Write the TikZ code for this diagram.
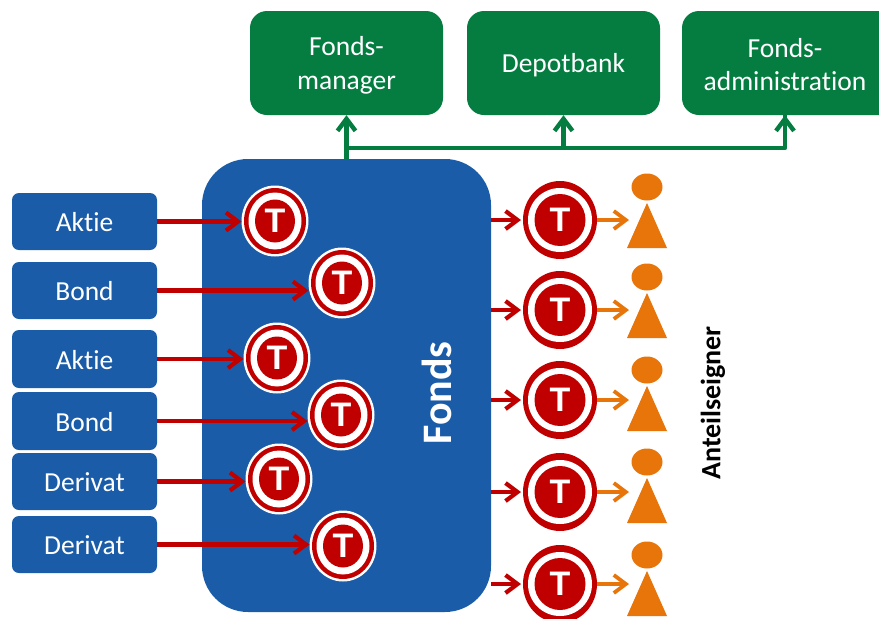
\documentclass[tikz,border=0pt]{standalone}
\usepackage{fontspec}
\setmainfont[Ligatures=NoCommon,Contextuals=NoAlternate]{Carlito}
\newfontfamily\tfont{Liberation Sans}
\usetikzlibrary{arrows.meta,shapes.geometric}
\definecolor{fblue}{HTML}{1A5CA8}
\definecolor{fgreen}{HTML}{057D41}
\definecolor{fred}{HTML}{C00000}
\definecolor{forange}{HTML}{E8750A}
\newcommand{\lowered}[2]{\raisebox{-#1pt}[\height][\depth]{#2}}
\tikzset{
  inbox/.style={rectangle,rounded corners=7pt,fill=fblue,text=white,minimum width=145pt,inner sep=0pt,font=\fontsize{27.5}{30}\selectfont},
  topbox/.style={rectangle,rounded corners=17pt,fill=fgreen,text=white,minimum width=193pt,minimum height=104pt,inner sep=0pt,align=center,font=\fontsize{27.5}{34}\selectfont},
  redarrow/.style={draw=fred,line width=4.2pt,-{Straight Barb[length=12pt,width=18pt,line width=4.2pt]}},
  orangearrow/.style={draw=forange,line width=3.8pt,-{Straight Barb[length=12pt,width=18pt,line width=3.8pt]}},
  greenline/.style={draw=fgreen,line width=4.4pt},
  greenarrow/.style={greenline,-{Straight Barb[length=12pt,width=18pt,line width=4.4pt]}},
  ell/.style={ellipse,inner sep=0pt,outer sep=0pt},
  orangefill/.style={fill=forange},
}
% \smalltoken{name}{x}{y}
\newcommand{\smalltoken}[3]{%
  \node[ell,fill=white,minimum width=67pt,minimum height=71pt] (#1) at (#2,#3) {};
  \node[ell,fill=fred,minimum width=62pt,minimum height=66pt] (#1a) at (#2,#3) {};
  \node[ell,fill=white,minimum width=53pt,minimum height=57pt] (#1b) at (#2,#3) {};
  \node[ell,fill=fred,minimum width=40pt,minimum height=43pt,text=white,font=\tfont\bfseries\fontsize{34}{34}\selectfont] (#1c) at (#2,#3) {T};
}
\newcommand{\bigtoken}[3]{%
  \node[ell,fill=fred,minimum width=74pt,minimum height=78pt] (#1) at (#2,#3) {};
  \node[ell,fill=white,minimum width=64pt,minimum height=64pt] (#1b) at (#2,#3) {};
  \node[ell,fill=fred,minimum width=51pt,minimum height=52pt,text=white,font=\tfont\bfseries\fontsize{34}{34}\selectfont] (#1c) at (#2,#3) {T};
}
% \person{name}{head y}
\newcommand{\person}[2]{%
  \node[ell,orangefill,minimum width=31pt,minimum height=27pt] (#1) at (647,#2) {};
  \fill[orangefill] (647,#2+16) -- (667,#2+61) -- (627,#2+61) -- cycle;
}
\begin{document}
\begin{tikzpicture}[x=1pt,y=-1pt]
\useasboundingbox (0,0) rectangle (879,619);
\fill[white] (0,0) rectangle (879,619);

% top boxes
\node[topbox] (mgr) at (346.5,63) {\lowered{2}{Fonds-}\\\lowered{2}{manager}};
\node[topbox] (dep) at (563.5,63) {\lowered{2}{Depotbank}};
\fill[fgreen,rounded corners=17pt] (879,11) -- (682,11) -- (682,115) -- (879,115);
\fill[fgreen] (860,11) rectangle (879,115);
\node[rectangle,text=white,minimum height=104pt,inner sep=0pt,align=center,font=\fontsize{27.5}{34}\selectfont] (adm) at (785,63) {\lowered{2}{Fonds-}\\\lowered{1}{administration}};

% fund
\node[rectangle,rounded corners=46pt,fill=fblue,minimum width=289pt,minimum height=453pt,inner sep=0pt] (fonds) at (346.5,385.5) {};
\node[rotate=90,text=white,font=\bfseries\fontsize{42}{42}\selectfont] (fondslabel) at (437,393) {Fonds};
\node[rotate=90,text=black,font=\bfseries\fontsize{28}{28}\selectfont] (anteil) at (713,403) {Anteilseigner};

% green connectors
\coordinate (fondstop) at (fonds.north -| mgr.south);
\coordinate (bus) at (347,148);
\draw[greenarrow] (fondstop) -- (mgr.south);
\draw[greenline,line join=round] (bus) -| (adm.south);
\draw[greenarrow] (bus -| adm.south) -- (adm.south);
\draw[greenarrow] (bus -| dep.south) -- (dep.south);

% input boxes
\node[inbox,minimum height=57pt] (b1) at (84.5,221.5) {\lowered{1}{Aktie}};
\node[inbox,minimum height=57pt] (b2) at (84.5,290.5) {\lowered{1}{Bond}};
\node[inbox,minimum height=58pt] (b3) at (84.5,359) {\lowered{1}{Aktie}};
\node[inbox,minimum height=58pt] (b4) at (84.5,421) {\lowered{1}{Bond}};
\node[inbox,minimum height=57pt] (b5) at (84.5,481.5) {\lowered{1}{Derivat}};
\node[inbox,minimum height=57pt] (b6) at (84.5,544.5) {\lowered{1}{Derivat}};

% tokens inside the fund
\smalltoken{t1}{275}{221}
\smalltoken{t2}{342}{283}
\smalltoken{t3}{277}{358}
\smalltoken{t4}{341}{415}
\smalltoken{t5}{279}{479}
\smalltoken{t6}{343}{546}

\draw[redarrow] (b1.east) -- (b1.east -| t1.west);
\draw[redarrow] (b2.east) -- (b2.east -| t2.west);
\draw[redarrow] (b3.east) -- (b3.east -| t3.west);
\draw[redarrow] (b4.east) -- (b4.east -| t4.west);
\draw[redarrow] (b5.east) -- (b5.east -| t5.west);
\draw[redarrow] (b6.east) -- (b6.east -| t6.west);

% tokens outside and holders
\bigtoken{r1}{560}{220}
\bigtoken{r2}{560}{310}
\bigtoken{r3}{560}{400}
\bigtoken{r4}{560}{492}
\bigtoken{r5}{560}{584}

\person{p1}{187}
\person{p2}{277}
\person{p3}{370}
\person{p4}{462}
\person{p5}{555}

\foreach \i/\y in {1/220,2/310,3/400,4/492,5/584}{
  \coordinate (h\i) at (629,\y);
  \draw[redarrow] (r\i.west -| fonds.east) -- ([xshift=-2pt]r\i.west);
  \draw[orangearrow] (r\i.east) -- (h\i);
}
\end{tikzpicture}
\end{document}
